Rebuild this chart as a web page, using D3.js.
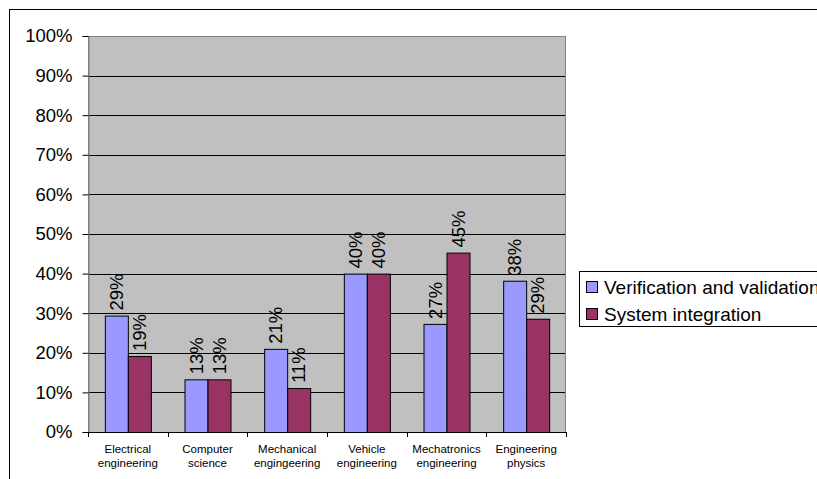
<!DOCTYPE html>
<html>
<head>
<meta charset="utf-8">
<script src="https://cdn.jsdelivr.net/npm/d3@7/dist/d3.min.js"></script>
<style>
  html, body { margin: 0; padding: 0; background: #fff; }
  svg { display: block; font-family: "Liberation Sans", Arial, sans-serif; }
</style>
</head>
<body>
<svg id="chart" width="817" height="479"></svg>
<script>
// Share of respondents per engineering programme
const categories = [
  ["Electrical", "engineering"],
  ["Computer", "science"],
  ["Mechanical", "engingeering"],
  ["Vehicle", "engineering"],
  ["Mechatronics", "engineering"],
  ["Engineering", "physics"]
];
const seriesNames = ["Verification and validation", "System integration"];
const verification = [0.294, 0.133, 0.21, 0.40, 0.273, 0.382];
const integration = [0.192, 0.133, 0.111, 0.40, 0.453, 0.286];
const yTicks = [0, 0.1, 0.2, 0.3, 0.4, 0.5, 0.6, 0.7, 0.8, 0.9, 1.0];
const colors = ["#9999FF", "#993366"];

const svg = d3.select("#chart");

// outer chart frame (extends past the window on the right and bottom)
svg.append("rect")
  .attr("x", 9.5).attr("y", 9.5)
  .attr("width", 900).attr("height", 600)
  .attr("fill", "none").attr("stroke", "#000").attr("stroke-width", 1);

const plot = { left: 88, right: 566, top: 36, bottom: 432 };

const x = d3.scaleBand()
  .domain(d3.range(categories.length))
  .range([plot.left, plot.right])
  .paddingInner(0)
  .paddingOuter(0);

const y = d3.scaleLinear().domain([0, 1]).range([plot.bottom, plot.top]);

// plot background
svg.append("rect")
  .attr("x", plot.left).attr("y", plot.top)
  .attr("width", plot.right - plot.left).attr("height", plot.bottom - plot.top)
  .attr("fill", "#C0C0C0");

// gridlines
svg.append("g")
  .selectAll("line")
  .data(yTicks.filter(t => t > 0 && t < 1))
  .join("line")
  .attr("x1", plot.left).attr("x2", plot.right)
  .attr("y1", d => Math.round(y(d)) + 0.5).attr("y2", d => Math.round(y(d)) + 0.5)
  .attr("stroke", "#000").attr("stroke-width", 1);

// plot border
svg.append("rect")
  .attr("x", plot.left + 0.5).attr("y", plot.top + 0.5)
  .attr("width", plot.right - plot.left - 1).attr("height", plot.bottom - plot.top)
  .attr("fill", "none").attr("stroke", "#808080").attr("stroke-width", 1);

// bars
const barW = 23;
const series = [verification, integration];
series.forEach((vals, si) => {
  const g = svg.append("g");
  g.selectAll("rect")
    .data(vals)
    .join("rect")
    .attr("x", (d, i) => x(i) + x.bandwidth() / 2 - barW + si * barW + 0.5)
    .attr("y", d => y(d) + 0.5)
    .attr("width", barW)
    .attr("height", d => y(0) - y(d))
    .attr("fill", colors[si])
    .attr("stroke", "#000")
    .attr("stroke-width", 1);

  // value labels, rotated
  g.selectAll("text")
    .data(vals)
    .join("text")
    .attr("transform", (d, i) => {
      const cx = x(i) + x.bandwidth() / 2 - barW / 2 + si * barW;
      return `translate(${cx},${y(d) - 5}) rotate(-90)`;
    })
    .attr("dy", "0.36em")
    .attr("text-anchor", "start")
    .attr("font-size", 18.5)
    .attr("fill", "#000")
    .text(d => Math.round(d * 100) + "%");
});

// y axis
const yAxis = d3.axisLeft(y)
  .tickValues(yTicks)
  .tickFormat(d => Math.round(d * 100) + "%")
  .tickSize(6)
  .tickPadding(10);
const yg = svg.append("g")
  .attr("transform", `translate(${plot.left + 0.5},0)`)
  .call(yAxis);
yg.select(".domain").attr("stroke", "#808080");
yg.selectAll(".tick line").attr("stroke", "#000");
yg.selectAll(".tick text").attr("font-size", 18.5).attr("fill", "#000")
  .attr("font-family", "Liberation Sans, Arial, sans-serif");

// x axis ticks at category boundaries
const xg = svg.append("g");
xg.append("line")
  .attr("x1", plot.left).attr("x2", plot.right)
  .attr("y1", plot.bottom + 0.5).attr("y2", plot.bottom + 0.5)
  .attr("stroke", "#000");
xg.selectAll("line.tk")
  .data(d3.range(categories.length + 1))
  .join("line")
  .attr("class", "tk")
  .attr("x1", i => Math.round(plot.left + i * x.bandwidth()) + 0.5)
  .attr("x2", i => Math.round(plot.left + i * x.bandwidth()) + 0.5)
  .attr("y1", plot.bottom).attr("y2", plot.bottom + 5)
  .attr("stroke", "#000");

// category labels
xg.selectAll("text.cat")
  .data(categories)
  .join("text")
  .attr("class", "cat")
  .attr("x", (d, i) => x(i) + x.bandwidth() / 2)
  .attr("y", plot.bottom + 21)
  .attr("text-anchor", "middle")
  .attr("font-size", 11.5)
  .attr("fill", "#000")
  .each(function(d) {
    const t = d3.select(this);
    d.forEach((line, k) => {
      t.append("tspan")
        .attr("x", t.attr("x"))
        .attr("dy", k === 0 ? 0 : 14)
        .text(line);
    });
  });

// legend
const lg = svg.append("g");
lg.append("rect")
  .attr("x", 579.5).attr("y", 271.5)
  .attr("width", 300).attr("height", 55)
  .attr("fill", "#fff").attr("stroke", "#000");
seriesNames.forEach((name, i) => {
  const cy = 287 + i * 27;
  lg.append("rect")
    .attr("x", 586.5).attr("y", cy - 5.5)
    .attr("width", 11).attr("height", 11)
    .attr("fill", colors[i]).attr("stroke", "#000");
  lg.append("text")
    .attr("x", 604).attr("y", cy)
    .attr("dy", "0.36em")
    .attr("font-size", 19)
    .attr("fill", "#000")
    .text(name);
});
</script>
</body>
</html>
